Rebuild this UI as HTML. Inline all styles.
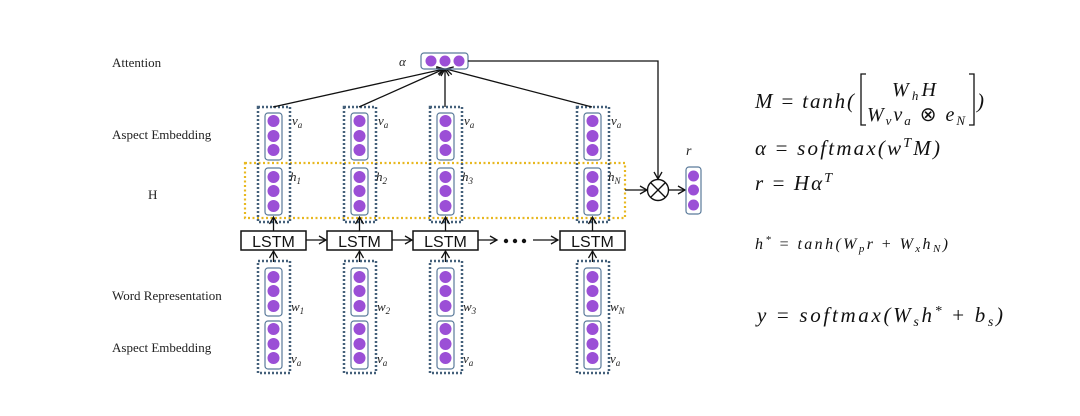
<!DOCTYPE html>
<html><head><meta charset="utf-8"><style>
html,body{margin:0;padding:0;background:#fff;}
svg{display:block;}
.lbl{font-family:"Liberation Serif",serif;font-size:13px;fill:#222;}
.it{font-family:"Liberation Serif",serif;font-style:italic;fill:#222;}
.eq{font-family:"Liberation Serif",serif;font-style:italic;fill:#111;}
</style></head><body>
<svg width="1080" height="416" viewBox="0 0 1080 416" xmlns="http://www.w3.org/2000/svg">
<defs>
<marker id="ah" markerWidth="10" markerHeight="10" refX="8" refY="5" orient="auto" markerUnits="userSpaceOnUse">
<path d="M1,1 L8,5 L1,9" fill="none" stroke="#111" stroke-width="1.3"/>
</marker>
<g id="col">
<rect x="-15" y="107" width="32" height="115" fill="none" stroke="#44607a" stroke-width="2.5" stroke-dasharray="2 2"/>
<rect x="-8" y="113" width="17" height="47" rx="3" fill="none" stroke="#5a7a9a" stroke-width="1.2"/>
<circle cx="0.5" cy="121" r="6" fill="#9b4fd6"/><circle cx="0.5" cy="136" r="6" fill="#9b4fd6"/><circle cx="0.5" cy="150" r="6" fill="#9b4fd6"/>
<rect x="-8" y="168" width="17" height="47" rx="3" fill="none" stroke="#5a7a9a" stroke-width="1.2"/>
<circle cx="0.5" cy="177" r="6" fill="#9b4fd6"/><circle cx="0.5" cy="191" r="6" fill="#9b4fd6"/><circle cx="0.5" cy="206" r="6" fill="#9b4fd6"/>
<line x1="0.5" y1="231" x2="0.5" y2="217" stroke="#111" stroke-width="1.3" marker-end="url(#ah)"/>
<rect x="-32" y="231" width="65" height="19" fill="#fff" stroke="#111" stroke-width="1.5"/>
<line x1="0.5" y1="262" x2="0.5" y2="251" stroke="#111" stroke-width="1.3" marker-end="url(#ah)"/>
<rect x="-15" y="261" width="32" height="112" fill="none" stroke="#44607a" stroke-width="2.5" stroke-dasharray="2 2"/>
<rect x="-8" y="268" width="17" height="48" rx="3" fill="none" stroke="#5a7a9a" stroke-width="1.2"/>
<circle cx="0.5" cy="277" r="6" fill="#9b4fd6"/><circle cx="0.5" cy="291" r="6" fill="#9b4fd6"/><circle cx="0.5" cy="306" r="6" fill="#9b4fd6"/>
<rect x="-8" y="321" width="17" height="48" rx="3" fill="none" stroke="#5a7a9a" stroke-width="1.2"/>
<circle cx="0.5" cy="329" r="6" fill="#9b4fd6"/><circle cx="0.5" cy="344" r="6" fill="#9b4fd6"/><circle cx="0.5" cy="358" r="6" fill="#9b4fd6"/>
</g>
</defs>

<text class="lbl" x="112" y="67">Attention</text>
<text class="lbl" x="112" y="139">Aspect Embedding</text>
<text class="lbl" x="148" y="199">H</text>
<text class="lbl" x="112" y="300">Word Representation</text>
<text class="lbl" x="112" y="352">Aspect Embedding</text>

<rect x="245" y="163" width="380" height="55" fill="none" stroke="#e8b820" stroke-width="2.2" stroke-dasharray="2 2.5"/>

<use href="#col" x="273"/>
<use href="#col" x="359"/>
<use href="#col" x="445"/>
<use href="#col" x="592"/>

<g font-family="Liberation Sans, sans-serif" font-size="16" fill="#111" text-anchor="middle">
<text x="273.5" y="247">LSTM</text><text x="359.5" y="247">LSTM</text><text x="445.5" y="247">LSTM</text><text x="592.5" y="247">LSTM</text>
</g>

<g stroke="#111" stroke-width="1.3" marker-end="url(#ah)">
<line x1="306" y1="240" x2="326" y2="240"/>
<line x1="392" y1="240" x2="412" y2="240"/>
<line x1="478" y1="240" x2="497" y2="240"/>
<line x1="533" y1="240" x2="558" y2="240"/>
<line x1="273" y1="107" x2="444" y2="69"/>
<line x1="359" y1="107" x2="444" y2="69"/>
<line x1="445" y1="107" x2="445" y2="69"/>
<line x1="592" y1="107" x2="446" y2="69"/>
<line x1="625" y1="190" x2="647" y2="190"/>
<line x1="669" y1="190" x2="685" y2="190"/>
</g>
<circle cx="506" cy="241" r="2.2" fill="#111"/><circle cx="515" cy="241" r="2.2" fill="#111"/><circle cx="524" cy="241" r="2.2" fill="#111"/>

<rect x="421" y="53" width="47" height="16" rx="3" fill="none" stroke="#5a7a9a" stroke-width="1.2"/>
<circle cx="431" cy="61" r="5.5" fill="#9b4fd6"/><circle cx="445" cy="61" r="5.5" fill="#9b4fd6"/><circle cx="459" cy="61" r="5.5" fill="#9b4fd6"/>
<text class="it" x="399" y="66" font-size="13">α</text>

<polyline points="468,61 658,61 658,179" fill="none" stroke="#111" stroke-width="1.3" marker-end="url(#ah)"/>
<circle cx="658" cy="190" r="10.5" fill="#fff" stroke="#111" stroke-width="1.4"/>
<line x1="650.5" y1="182.5" x2="665.5" y2="197.5" stroke="#111" stroke-width="1.3"/>
<line x1="665.5" y1="182.5" x2="650.5" y2="197.5" stroke="#111" stroke-width="1.3"/>

<rect x="686" y="167" width="15" height="47" rx="3" fill="none" stroke="#5a7a9a" stroke-width="1.2"/>
<circle cx="693.5" cy="176" r="5.5" fill="#9b4fd6"/><circle cx="693.5" cy="190" r="5.5" fill="#9b4fd6"/><circle cx="693.5" cy="205" r="5.5" fill="#9b4fd6"/>
<text class="it" x="686" y="155" font-size="14">r</text>

<g class="it" font-size="13">
<text x="292" y="125">v<tspan font-size="9" dy="3">a</tspan></text>
<text x="378" y="125">v<tspan font-size="9" dy="3">a</tspan></text>
<text x="464" y="125">v<tspan font-size="9" dy="3">a</tspan></text>
<text x="611" y="125">v<tspan font-size="9" dy="3">a</tspan></text>
<text x="290" y="181">h<tspan font-size="9" dy="3">1</tspan></text>
<text x="376" y="181">h<tspan font-size="9" dy="3">2</tspan></text>
<text x="462" y="181">h<tspan font-size="9" dy="3">3</tspan></text>
<text x="608" y="181">h<tspan font-size="9" dy="3">N</tspan></text>
<text x="291" y="311">w<tspan font-size="9" dy="3">1</tspan></text>
<text x="377" y="311">w<tspan font-size="9" dy="3">2</tspan></text>
<text x="463" y="311">w<tspan font-size="9" dy="3">3</tspan></text>
<text x="610" y="311">w<tspan font-size="9" dy="3">N</tspan></text>
<text x="291" y="363">v<tspan font-size="9" dy="3">a</tspan></text>
<text x="377" y="363">v<tspan font-size="9" dy="3">a</tspan></text>
<text x="463" y="363">v<tspan font-size="9" dy="3">a</tspan></text>
<text x="610" y="363">v<tspan font-size="9" dy="3">a</tspan></text>
</g>

<g class="eq">
<text x="755" y="108" font-size="21" textLength="99" lengthAdjust="spacing">M <tspan font-style="normal">=</tspan> tanh(</text>
<path d="M866,74 L861,74 L861,125 L866,125" fill="none" stroke="#111" stroke-width="1.3"/>
<path d="M969,74 L974,74 L974,125 L969,125" fill="none" stroke="#111" stroke-width="1.3"/>
<text x="892" y="96" font-size="20" textLength="44" lengthAdjust="spacing">W<tspan font-size="13" dy="4">h</tspan><tspan dy="-4">H</tspan></text>
<text x="867" y="121" font-size="20" textLength="98" lengthAdjust="spacing">W<tspan font-size="13" dy="4">v</tspan><tspan dy="-4">v</tspan><tspan font-size="13" dy="4">a</tspan><tspan dy="-4" font-style="normal"> ⊗ </tspan>e<tspan font-size="13" dy="4">N</tspan></text>
<text x="977" y="108" font-size="21">)</text>
<text x="755" y="155" font-size="21" textLength="185" lengthAdjust="spacing">α <tspan font-style="normal">=</tspan> softmax(w<tspan font-size="14" dy="-8">T</tspan><tspan dy="8">M)</tspan></text>
<text x="755" y="190" font-size="21" textLength="77" lengthAdjust="spacing">r <tspan font-style="normal">=</tspan> Hα<tspan font-size="14" dy="-8">T</tspan></text>
<text x="755" y="249" font-size="16" textLength="193" lengthAdjust="spacing">h<tspan font-size="11" dy="-6">*</tspan><tspan dy="6" font-style="normal"> = </tspan>tanh(W<tspan font-size="11" dy="3">p</tspan><tspan dy="-3">r </tspan><tspan font-style="normal">+</tspan> W<tspan font-size="11" dy="3">x</tspan><tspan dy="-3">h</tspan><tspan font-size="11" dy="3">N</tspan><tspan dy="-3">)</tspan></text>
<text x="757" y="322" font-size="21" textLength="246" lengthAdjust="spacing">y <tspan font-style="normal">=</tspan> softmax(W<tspan font-size="14" dy="4">s</tspan><tspan dy="-4">h</tspan><tspan font-size="14" dy="-7">*</tspan><tspan dy="7" font-style="normal"> + </tspan>b<tspan font-size="14" dy="4">s</tspan><tspan dy="-4">)</tspan></text>
</g>
</svg>
</body></html>
